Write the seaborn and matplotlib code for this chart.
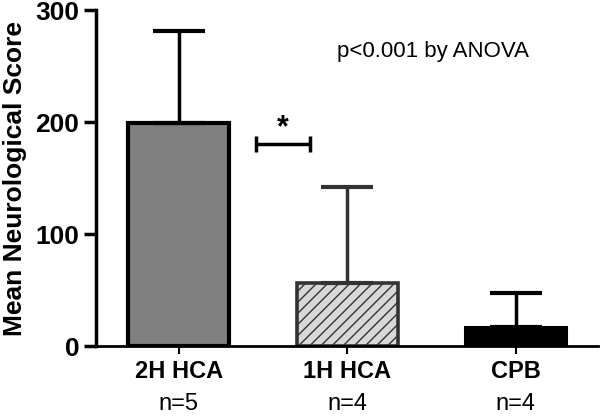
import matplotlib
matplotlib.use("Agg")
import matplotlib.pyplot as plt
import seaborn as sns
import pandas as pd

categories = ["2H HCA", "1H HCA", "CPB"]
n_labels = ["n=5", "n=4", "n=4"]
means = [199, 56, 17]
errors = [82, 86, 30]
y_ticks = [0, 100, 200, 300]

sns.set_theme(style="white")
plt.rcParams['font.family'] = ['Liberation Sans', 'DejaVu Sans']
plt.rcParams['text.color'] = 'black'
plt.rcParams['axes.labelcolor'] = 'black'

fig = plt.figure(figsize=(6, 4.17), dpi=100)
ax = fig.add_axes([0.16, 0.17, 0.837, 0.806])

df = pd.DataFrame({"group": categories, "score": means})
fills = ["#808080", "#d8d8d8", "#000000"]
sns.barplot(data=df, x="group", y="score", hue="group", palette=fills,
            width=0.6, legend=False, ax=ax, errorbar=None, saturation=1)

edge_cols = ["#000000", "#333333", "#000000"]
lws = [3.0, 2.6, 2.2]
for patch, ec, lw in zip(ax.patches, edge_cols, lws):
    patch.set_edgecolor(ec)
    patch.set_linewidth(lw)
plt.rcParams['hatch.linewidth'] = 1.0
ax.patches[1].set_hatch('///')
ax.patches[1].set_edgecolor("#333333")

err_cols = ["#000000", "#333333", "#000000"]
for i, (m, e, c) in enumerate(zip(means, errors, err_cols)):
    ax.errorbar(i, m, yerr=[[0], [e]], fmt='none', ecolor=c, elinewidth=2.5,
                capsize=19, capthick=3, zorder=1)

# significance bracket
ax.errorbar(0.62, 180, xerr=0.16, fmt='none', ecolor='black', elinewidth=2.5,
            capsize=6, capthick=2.5)
ax.text(0.62, 181, "*", ha='center', va='bottom', fontsize=22, fontweight='bold')

ax.text(1.51, 263, "p<0.001 by ANOVA", ha='center', va='center', fontsize=16)

ax.set_xlim(-0.49, 2.49)
ax.set_ylim(0, 300)
ax.set_yticks(y_ticks)
ax.set_yticklabels([str(t) for t in y_ticks], fontsize=19, fontweight='bold')
ax.set_xticks(range(len(categories)))
ax.set_xticklabels(categories, fontsize=17, fontweight='bold')
ax.set_xlabel("")
ax.set_ylabel("Mean Neurological Score", fontsize=19, fontweight='bold', labelpad=6)

for i, nl in enumerate(n_labels):
    ax.text(i, -0.172, nl, transform=ax.get_xaxis_transform(), ha='center',
            va='center', fontsize=17)

sns.despine(ax=ax)
ax.spines['left'].set_linewidth(2.5)
ax.spines['bottom'].set_linewidth(2)
ax.spines['left'].set_color('black')
ax.spines['bottom'].set_color('black')
ax.tick_params(axis='y', direction='out', length=9, width=2.5, left=True, pad=3,
               colors='black', labelcolor='black')
ax.tick_params(axis='x', direction='out', length=6, width=1.5, bottom=True, pad=4,
               colors='black', labelcolor='black')

fig.savefig("out.png", dpi=100)
